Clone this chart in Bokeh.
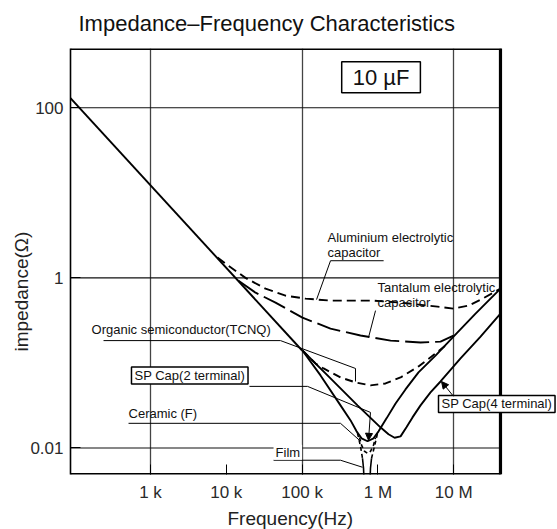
import math
from bokeh.plotting import figure
from bokeh.models import FixedTicker, Label, Arrow, NormalHead, Range1d, Title
from bokeh.embed import file_html
from bokeh.resources import INLINE

FONT = "Liberation Sans"

# ---------------- data (frequency in Hz, impedance in ohm) ----------------
x_ticks = [1e3, 1e4, 1e5, 1e6, 1e7]
x_tick_labels = ["1 k", "10 k", "100 k", "1 M", "10 M"]
x_grid = [1e3, 1e5, 1e7]
y_ticks = [0.01, 1, 100]
y_tick_labels = ["0.01", "1", "100"]

# chart box (frequency and impedance limits of the drawn chart)
f_lo, f_hi = 88, 41.4e6
z_lo, z_hi = 0.00488, 497

# ideal 10 uF capacitor line (common to all types)
cap_f = [88, 1.0e5]
cap_z = [130, 0.14]

alu_f = [7.66e3, 10.7e3, 17.9e3, 32.9e3, 60.4e3, 111e3, 237e3, 875e3, 1.99e6, 6.11e6, 9.93e6, 15.7e6, 24.0e6, 41.4e6]
alu_z = [1.73, 1.39, 1.0, 0.746, 0.618, 0.570, 0.540, 0.540, 0.512, 0.459, 0.435, 0.472, 0.570, 0.746]

ta_f = [14.5e3, 24.3e3, 44.6e3, 101e3, 237e3, 589e3, 1.47e6, 3.65e6, 6.70e6, 9.93e6]
ta_z = [0.927, 0.670, 0.512, 0.341, 0.253, 0.210, 0.183, 0.174, 0.178, 0.210]

tcnq_f = [101e3, 150e3, 192e3, 321e3, 506e3, 798e3, 1.26e6, 1.99e6, 3.43e6, 5.75e6, 7.80e6]
tcnq_z = [0.140, 0.0986, 0.0861, 0.0675, 0.0590, 0.0544, 0.0574, 0.0675, 0.0910, 0.129, 0.160]

sp4_f = [101e3, 237e3, 538e3, 1.08e6, 1.38e6, 1.66e6, 1.99e6, 2.38e6, 2.86e6, 3.65e6, 4.94e6, 6.70e6, 12.3e6, 22.6e6, 41.4e6]
sp4_z = [0.140, 0.0658, 0.0317, 0.0175, 0.0145, 0.0132, 0.0137, 0.0175, 0.0229, 0.0317, 0.0450, 0.0605, 0.113, 0.204, 0.380]

sp2_f = [101e3, 175e3, 321e3, 436e3, 523e3, 608e3, 730e3, 875e3, 1.02e6, 1.30e6, 1.71e6, 2.31e6, 3.43e6, 5.75e6, 9.93e6, 19.4e6, 41.4e6]
sp2_z = [0.140, 0.0713, 0.0317, 0.0211, 0.0157, 0.0130, 0.0120, 0.0130, 0.0157, 0.0223, 0.0334, 0.0488, 0.0773, 0.122, 0.204, 0.380, 0.746]

cer_f = [572e3, 608e3, 666e3, 730e3, 798e3, 875e3, 930e3]
cer_z = [0.0133, 0.0108, 0.00915, 0.00867, 0.00915, 0.0108, 0.0133]

film_f = [538e3, 589e3, 626e3, 646e3, 656e3, 787e3, 798e3, 824e3, 902e3, 988e3]
film_z = [0.0149, 0.0105, 0.00757, 0.00578, 0.00418, 0.00418, 0.00578, 0.00757, 0.0105, 0.0149]

# ---------------- figure ----------------
# the plotting frame runs past the chart box on the right so that the
# "SP Cap(4 terminal)" callout can overhang the chart edge as in the original
p = figure(width=557, height=529, x_axis_type="log", y_axis_type="log",
           x_range=Range1d(f_lo, 2.34e8), y_range=Range1d(z_lo, z_hi),
           output_backend="svg", toolbar_location=None,
           min_border_left=70, min_border_right=0, min_border_top=47, min_border_bottom=55)

p.title.text = "Impedance\u2013Frequency Characteristics"
p.title.text_font = FONT
p.title.text_font_size = "22px"
p.title.text_font_style = "normal"
p.title.text_color = "#111111"
p.title.align = "left"
p.title.offset = 8
p.title.vertical_align = "top"
p.title.standoff = 21

p.outline_line_color = None
p.background_fill_color = "white"
p.border_fill_color = "white"

for ax, ticks, labels in ((p.xaxis[0], x_ticks, x_tick_labels), (p.yaxis[0], y_ticks, y_tick_labels)):
    ax.ticker = FixedTicker(ticks=ticks)
    ax.major_label_overrides = {t: l for t, l in zip(ticks, labels)}
    ax.major_tick_in = 10
    ax.major_tick_out = 0
    ax.major_tick_line_color = "black"
    ax.minor_tick_line_color = None
    ax.axis_line_color = "black"
    ax.axis_line_width = 1.6
    ax.major_label_text_font = FONT
    ax.major_label_text_font_size = "17px"
    ax.major_label_text_color = "#2a2a2a"

p.xaxis.axis_line_color = None
p.xaxis.major_label_standoff = 8
p.yaxis.major_label_standoff = 7

p.add_layout(Title(text="Frequency(Hz)", align="left", offset=157, standoff=2,
                   text_font=FONT, text_font_size="19px", text_font_style="normal",
                   text_color="#222222"), "below")
p.add_layout(Title(text="impedance(\u03a9)", align="left", offset=123, standoff=-8,
                   text_font=FONT, text_font_size="19px", text_font_style="normal",
                   text_color="#222222"), "left")

p.xgrid.ticker = FixedTicker(ticks=x_grid)
p.xgrid.grid_line_color = "#444444"
p.xgrid.grid_line_width = 1.3
p.ygrid.visible = False

# horizontal grid lines and chart border limited to the chart box
for z in y_ticks:
    p.line([f_lo, f_hi], [z, z], line_color="#111111", line_width=1.1)
p.line([f_lo, f_hi, f_hi], [z_hi, z_hi, z_lo], line_color="black", line_width=3.2)
p.line([f_hi, f_hi], [z_hi, z_lo], line_color="black", line_width=1.8)
p.line([f_lo, f_hi], [z_lo, z_lo], line_color="black", line_width=3.2)

# ---------------- curves ----------------
LW = 1.9
p.line(cap_f, cap_z, line_color="black", line_width=LW)
p.line(alu_f, alu_z, line_color="black", line_width=LW, line_dash="9 5")
p.line(ta_f, ta_z, line_color="black", line_width=LW, line_dash="24 6")
p.line(tcnq_f, tcnq_z, line_color="black", line_width=LW, line_dash="8 5")
p.line(sp4_f, sp4_z, line_color="black", line_width=LW)
p.line(sp2_f, sp2_z, line_color="black", line_width=LW)
p.line(cer_f, cer_z, line_color="black", line_width=1.6, line_dash="4 3")
p.line(film_f[:3], film_z[:3], line_color="black", line_width=1.6, line_dash="4 3")
p.line(film_f[2:8], film_z[2:8], line_color="black", line_width=1.6)
p.line(film_f[7:], film_z[7:], line_color="black", line_width=1.6, line_dash="4 3")

# ---------------- annotations ----------------
def leader(fs, zs):
    p.line(fs, zs, line_color="black", line_width=1)

def text(f, z, s, **kw):
    opts = dict(text_font=FONT, text_font_size="13px", text_color="#111111",
                text_baseline="middle", text_align="left")
    opts.update(kw)
    p.add_layout(Label(x=f, y=z, text=s, **opts))

text(1.10e6, 229, "10 \u00b5F", text_font_size="22px", text_align="center",
     border_line_color="black", border_line_width=1.5, background_fill_color="white", padding=(11, 3))

text(216e3, 2.97, "Aluminium electrolytic")
text(216e3, 1.98, "capacitor")
leader([1.19e6, 237e3, 155e3], [1.59, 1.59, 0.555])

text(988e3, 0.767, "Tantalum electrolytic")
text(988e3, 0.512, "capacitor")
leader([930e3, 752e3], [0.412, 0.199])

text(167, 0.247, "Organic semiconductor(TCNQ)")
leader([240, 51.9e3, 506e3, 506e3], [0.183, 0.183, 0.0861, 0.0605])

text(561, 0.0713, "SP Cap(2 terminal)", border_line_color="black", border_line_width=1.5,
     background_fill_color="white", padding=(3, 1))
leader([20.2e3, 118e3, 798e3], [0.0530, 0.0530, 0.0262])
p.add_layout(Arrow(end=NormalHead(size=7, line_color="black", fill_color="black", line_width=1),
                   x_start=798e3, y_start=0.0262, x_end=752e3, y_end=0.0123,
                   line_color="black", line_width=1))

text(513, 0.0255, "Ceramic (F)")
leader([513, 321e3, 572e3], [0.0195, 0.0195, 0.0123])

text(42.0e3, 0.00891, "Film", background_fill_color="white", padding=(2, 0))
leader([42.0e3, 321e3, 626e3], [0.00718, 0.00718, 0.00594])

text(6.30e6, 0.0330, "SP Cap(4 terminal)", border_line_color="black", border_line_width=1.5,
     background_fill_color="white", padding=(3, 1))
p.add_layout(Arrow(end=NormalHead(size=7, line_color="black", fill_color="black", line_width=1),
                   x_start=9.93e6, y_start=0.0405, x_end=6.90e6, y_end=0.0605,
                   line_color="black", line_width=1))

open("out.html", "w").write(file_html(p, INLINE))
